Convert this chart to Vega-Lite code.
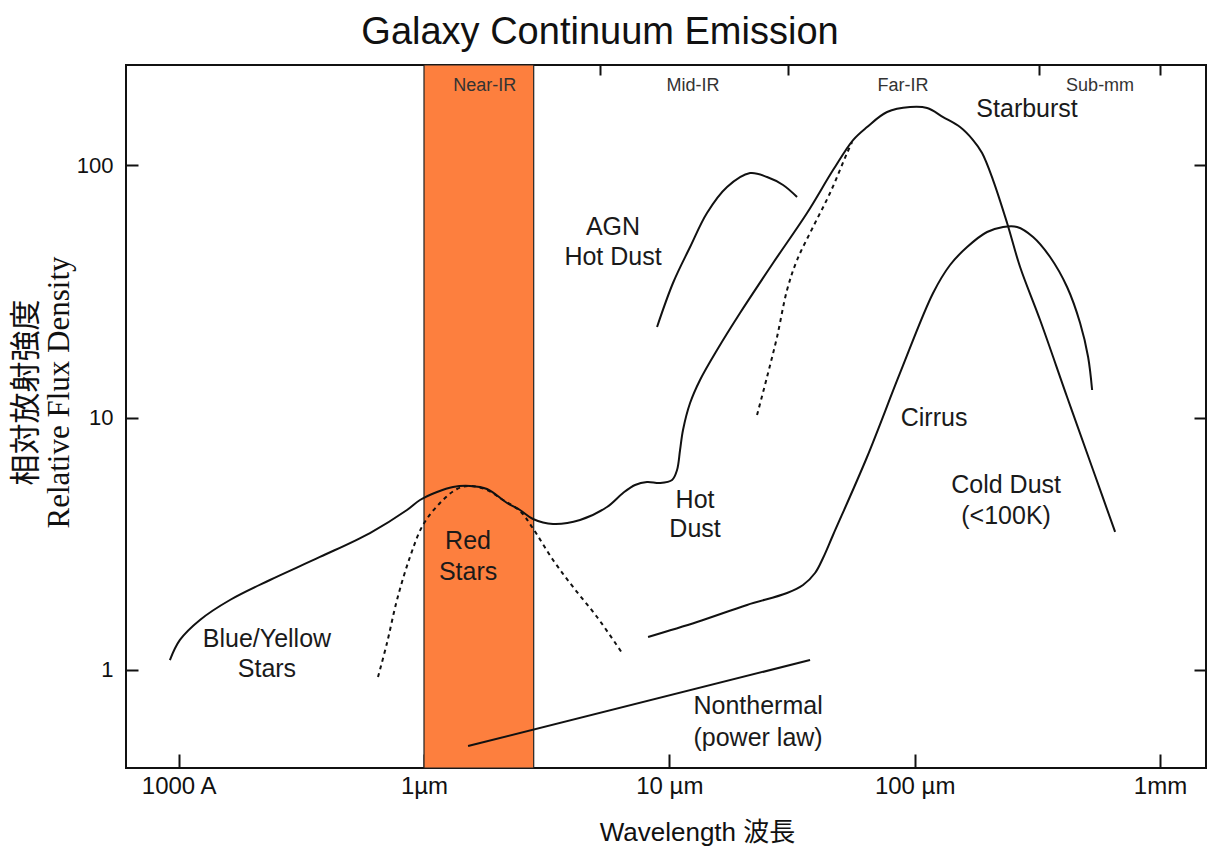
{
  "$schema": "https://vega.github.io/schema/vega-lite/v6.json",
  "autosize": "none",
  "width": 1080,
  "height": 703,
  "padding": {"left": 126, "top": 65, "right": 6, "bottom": 78},
  "background": "white",
  "config": {
    "view": {"stroke": "#111", "strokeWidth": 2},
    "axis": {"grid": false, "domain": false, "tickColor": "#111", "tickWidth": 2, "labelColor": "#111", "labelFont": "Liberation Sans", "titleColor": "#111"}
  },
  "title": {
    "text": "Galaxy Continuum Emission",
    "font": "Liberation Sans",
    "fontSize": 38,
    "fontWeight": "normal",
    "color": "#111",
    "anchor": "middle",
    "dx": -66,
    "offset": 12
  },
  "datasets": {
    "curves": [
      {"s": "main", "lam": 0.0921, "flux": 1.095},
      {"s": "main", "lam": 0.1012, "flux": 1.315},
      {"s": "main", "lam": 0.1221, "flux": 1.578},
      {"s": "main", "lam": 0.1618, "flux": 1.893},
      {"s": "main", "lam": 0.2356, "flux": 2.272},
      {"s": "main", "lam": 0.3767, "flux": 2.803},
      {"s": "main", "lam": 0.6023, "flux": 3.487},
      {"s": "main", "lam": 0.8524, "flux": 4.301},
      {"s": "main", "lam": 0.9631, "flux": 4.713},
      {"s": "main", "lam": 1.130, "flux": 5.07},
      {"s": "main", "lam": 1.313, "flux": 5.306},
      {"s": "main", "lam": 1.540, "flux": 5.355},
      {"s": "main", "lam": 1.806, "flux": 5.21},
      {"s": "main", "lam": 2.180, "flux": 4.585},
      {"s": "main", "lam": 2.462, "flux": 4.301},
      {"s": "main", "lam": 2.782, "flux": 3.963},
      {"s": "main", "lam": 3.357, "flux": 3.786},
      {"s": "main", "lam": 4.325, "flux": 3.927},
      {"s": "main", "lam": 5.572, "flux": 4.421},
      {"s": "main", "lam": 6.476, "flux": 5.023},
      {"s": "main", "lam": 7.248, "flux": 5.403},
      {"s": "main", "lam": 8.11, "flux": 5.553},
      {"s": "main", "lam": 9.165, "flux": 5.502},
      {"s": "main", "lam": 10.26, "flux": 5.655},
      {"s": "main", "lam": 10.75, "flux": 6.196},
      {"s": "main", "lam": 11.06, "flux": 7.435},
      {"s": "main", "lam": 11.37, "flux": 8.925},
      {"s": "main", "lam": 12.15, "flux": 11.41},
      {"s": "main", "lam": 13.34, "flux": 14.08},
      {"s": "main", "lam": 15.65, "flux": 18.51},
      {"s": "main", "lam": 19.42, "flux": 25.94},
      {"s": "main", "lam": 26.48, "flux": 40.92},
      {"s": "main", "lam": 36.42, "flux": 64.55},
      {"s": "main", "lam": 46.49, "flux": 95.5},
      {"s": "main", "lam": 56.09, "flux": 125.6},
      {"s": "main", "lam": 63.97, "flux": 141.4},
      {"s": "main", "lam": 77.18, "flux": 162.2},
      {"s": "main", "lam": 95.8, "flux": 169.7},
      {"s": "main", "lam": 112.4, "flux": 168.2},
      {"s": "main", "lam": 130.6, "flux": 154.9},
      {"s": "main", "lam": 153.1, "flux": 141.4},
      {"s": "main", "lam": 173.0, "flux": 125.6},
      {"s": "main", "lam": 188.3, "flux": 111.6},
      {"s": "main", "lam": 208.7, "flux": 87.2},
      {"s": "main", "lam": 238.1, "flux": 58.93},
      {"s": "main", "lam": 269.0, "flux": 39.45},
      {"s": "main", "lam": 324.5, "flux": 24.33},
      {"s": "main", "lam": 418.1, "flux": 12.06},
      {"s": "main", "lam": 533.6, "flux": 6.196},
      {"s": "main", "lam": 656.2, "flux": 3.521},
      {"s": "agn", "lam": 8.911, "flux": 22.83},
      {"s": "agn", "lam": 10.35, "flux": 34.1},
      {"s": "agn", "lam": 12.15, "flux": 47.34},
      {"s": "agn", "lam": 14.24, "flux": 64.55},
      {"s": "agn", "lam": 17.19, "flux": 81.83},
      {"s": "agn", "lam": 21.33, "flux": 92.96},
      {"s": "agn", "lam": 25.02, "flux": 89.65},
      {"s": "agn", "lam": 29.08, "flux": 83.33},
      {"s": "agn", "lam": 33.16, "flux": 74.69},
      {"s": "cirrus", "lam": 8.19, "flux": 1.351},
      {"s": "cirrus", "lam": 12.97, "flux": 1.549},
      {"s": "cirrus", "lam": 20.74, "flux": 1.809},
      {"s": "cirrus", "lam": 30.19, "flux": 2.018},
      {"s": "cirrus", "lam": 35.08, "flux": 2.171},
      {"s": "cirrus", "lam": 39.26, "flux": 2.422},
      {"s": "cirrus", "lam": 42.32, "flux": 2.777},
      {"s": "cirrus", "lam": 46.49, "flux": 3.424},
      {"s": "cirrus", "lam": 63.97, "flux": 6.975},
      {"s": "cirrus", "lam": 87.2, "flux": 15.01},
      {"s": "cirrus", "lam": 118.9, "flux": 31.12},
      {"s": "cirrus", "lam": 139.4, "flux": 40.18},
      {"s": "cirrus", "lam": 163.6, "flux": 47.34},
      {"s": "cirrus", "lam": 197.3, "flux": 54.29},
      {"s": "cirrus", "lam": 229.3, "flux": 56.82},
      {"s": "cirrus", "lam": 261.5, "flux": 56.82},
      {"s": "cirrus", "lam": 303.9, "flux": 51.87},
      {"s": "cirrus", "lam": 356.5, "flux": 43.21},
      {"s": "cirrus", "lam": 418.1, "flux": 32.87},
      {"s": "cirrus", "lam": 472.4, "flux": 23.67},
      {"s": "cirrus", "lam": 509.3, "flux": 17.36},
      {"s": "cirrus", "lam": 528.8, "flux": 12.85},
      {"s": "nonthermal", "lam": 1.512, "flux": 0.5},
      {"s": "nonthermal", "lam": 37.46, "flux": 1.095},
      {"s": "red", "lam": 0.6494, "flux": 0.938},
      {"s": "red", "lam": 0.7066, "flux": 1.279},
      {"s": "red", "lam": 0.776, "flux": 1.893},
      {"s": "red", "lam": 0.8768, "flux": 2.803},
      {"s": "red", "lam": 0.9906, "flux": 3.752},
      {"s": "red", "lam": 1.162, "flux": 4.585},
      {"s": "red", "lam": 1.363, "flux": 5.21},
      {"s": "red", "lam": 1.540, "flux": 5.355},
      {"s": "red", "lam": 1.806, "flux": 5.163},
      {"s": "red", "lam": 2.099, "flux": 4.713},
      {"s": "red", "lam": 2.462, "flux": 4.263},
      {"s": "red", "lam": 2.756, "flux": 3.684},
      {"s": "red", "lam": 3.357, "flux": 2.727},
      {"s": "red", "lam": 4.05, "flux": 2.132},
      {"s": "red", "lam": 5.074, "flux": 1.621},
      {"s": "red", "lam": 6.415, "flux": 1.168},
      {"s": "hotdust", "lam": 22.78, "flux": 10.23},
      {"s": "hotdust", "lam": 25.02, "flux": 14.47},
      {"s": "hotdust", "lam": 27.48, "flux": 20.84},
      {"s": "hotdust", "lam": 30.19, "flux": 31.99},
      {"s": "hotdust", "lam": 33.16, "flux": 42.05},
      {"s": "hotdust", "lam": 38.53, "flux": 56.82},
      {"s": "hotdust", "lam": 45.19, "flux": 77.47},
      {"s": "hotdust", "lam": 53.03, "flux": 111.6},
      {"s": "hotdust", "lam": 55.57, "flux": 123.3}
    ],
    "notes": [
      {"label": "Blue/Yellow", "lam": 0.229, "flux": 1.327},
      {"label": "Stars", "lam": 0.229, "flux": 1.009},
      {"label": "Red", "lam": 1.512, "flux": 3.243},
      {"label": "Stars", "lam": 1.512, "flux": 2.444},
      {"label": "AGN", "lam": 5.895, "flux": 56.82},
      {"label": "Hot Dust", "lam": 5.895, "flux": 43.21},
      {"label": "Hot", "lam": 12.73, "flux": 4.713},
      {"label": "Dust", "lam": 12.73, "flux": 3.618},
      {"label": "Starburst", "lam": 287.2, "flux": 166.7},
      {"label": "Cirrus", "lam": 120.0, "flux": 9.954},
      {"label": "Cold Dust", "lam": 235.9, "flux": 5.403},
      {"label": "(<100K)", "lam": 235.9, "flux": 4.073},
      {"label": "Nonthermal", "lam": 23.0, "flux": 0.7202},
      {"label": "(power law)", "lam": 23.0, "flux": 0.538}
    ],
    "regions": [
      {"label": "Near-IR", "lam": 1.77, "flux": 205.6},
      {"label": "Mid-IR", "lam": 12.5, "flux": 205.6},
      {"label": "Far-IR", "lam": 89.7, "flux": 205.6},
      {"label": "Sub-mm", "lam": 570, "flux": 205.6}
    ],
    "band": [{"lo": 1, "hi": 2.8}]
  },
  "layer": [
    {
      "data": {"name": "band"},
      "mark": {"type": "rect", "fill": "#fd7f3e", "stroke": "#222", "strokeWidth": 1.2},
      "encoding": {
        "x": {"field": "lo", "type": "quantitative", "scale": {"type": "log", "domain": [0.061, 1540], "nice": false}, "axis": null},
        "x2": {"field": "hi"}
      }
    },
    {
      "data": {"name": "curves"},
      "transform": [{"filter": {"field": "s", "oneOf": ["main", "agn", "cirrus", "nonthermal"]}}],
      "mark": {"type": "line", "color": "#111", "strokeWidth": 2, "interpolate": "catmull-rom"},
      "encoding": {
        "x": {"field": "lam", "type": "quantitative", "scale": {"type": "log", "domain": [0.061, 1540], "nice": false},
          "axis": {"orient": "bottom", "values": [0.1, 1, 10, 100, 1000], "tickSize": -14, "labelPadding": 20, "labelFontSize": 24,
            "labelExpr": "datum.value < 0.5 ? '1000 A' : datum.value < 5 ? '1µm' : datum.value < 50 ? '10 µm' : datum.value < 500 ? '100 µm' : '1mm'",
            "title": "Wavelength 波長", "titleFont": "Liberation Sans, Noto Sans CJK JP", "titleFontSize": 26, "titleFontWeight": "normal",
            "titleX": 571, "titleY": 72, "titleBaseline": "alphabetic", "titleAlign": "center"}},
        "y": {"field": "flux", "type": "quantitative", "scale": {"type": "log", "domain": [0.409, 249], "nice": false},
          "axis": {"orient": "left", "values": [1, 10, 100], "tickSize": -12, "labelPadding": 25, "labelFontSize": 22, "format": "d",
            "title": ["相対放射強度", "Relative Flux Density"], "titleFont": "Liberation Serif, Noto Sans CJK JP", "titleFontSize": 31, "titleFontWeight": "normal",
            "titleLineHeight": 33, "titleAngle": -90, "titleX": -84, "titleY": 327, "titleAlign": "center", "titleBaseline": "bottom"}},
        "detail": {"field": "s"}
      }
    },
    {
      "data": {"name": "curves"},
      "transform": [{"filter": {"field": "s", "oneOf": ["red", "hotdust"]}}],
      "mark": {"type": "line", "color": "#111", "strokeWidth": 2, "strokeDash": [4, 4], "interpolate": "catmull-rom"},
      "encoding": {
        "x": {"field": "lam", "type": "quantitative", "scale": {"type": "log", "domain": [0.061, 1540], "nice": false},
          "axis": {"orient": "top", "values": [5.2, 30.5, 320, 1000], "tickSize": -10, "labels": false, "title": null}},
        "y": {"field": "flux", "type": "quantitative", "scale": {"type": "log", "domain": [0.409, 249], "nice": false},
          "axis": {"orient": "right", "values": [1, 10, 100], "tickSize": -12, "labels": false, "title": null}},
        "detail": {"field": "s"}
      }
    },
    {
      "data": {"name": "notes"},
      "mark": {"type": "text", "font": "Liberation Sans", "fontSize": 25, "color": "#1a1a1a", "align": "center", "baseline": "middle"},
      "encoding": {
        "x": {"field": "lam", "type": "quantitative", "scale": {"type": "log", "domain": [0.061, 1540], "nice": false}, "axis": null},
        "y": {"field": "flux", "type": "quantitative", "scale": {"type": "log", "domain": [0.409, 249], "nice": false}, "axis": null},
        "text": {"field": "label"}
      }
    },
    {
      "data": {"name": "regions"},
      "mark": {"type": "text", "font": "Liberation Sans", "fontSize": 18, "color": "#333", "align": "center", "baseline": "middle"},
      "encoding": {
        "x": {"field": "lam", "type": "quantitative", "scale": {"type": "log", "domain": [0.061, 1540], "nice": false}, "axis": null},
        "y": {"field": "flux", "type": "quantitative", "scale": {"type": "log", "domain": [0.409, 249], "nice": false}, "axis": null},
        "text": {"field": "label"}
      }
    }
  ]
}
